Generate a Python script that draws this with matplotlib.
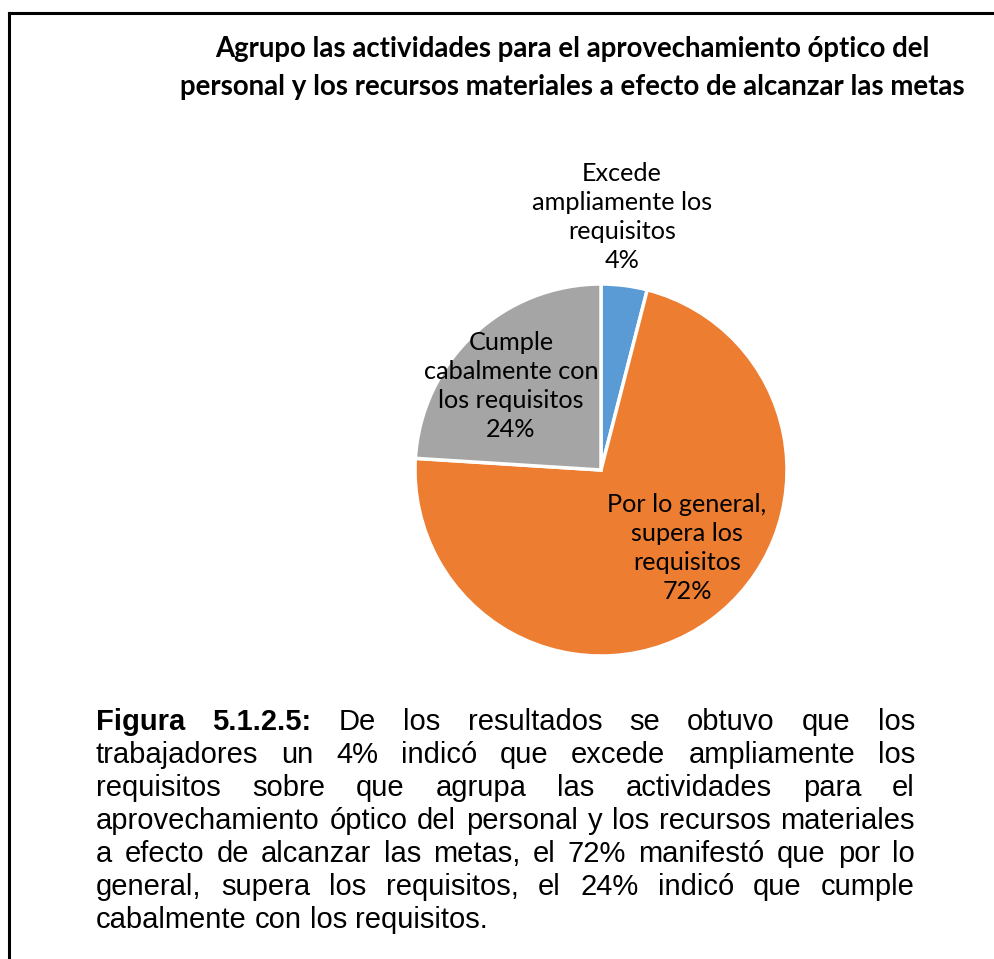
import matplotlib
matplotlib.use("Agg")
import matplotlib.pyplot as plt
from matplotlib.lines import Line2D

W, H, DPI = 994, 959, 100

# ------------------------------------------------------------------------------
# data
# ------------------------------------------------------------------------------
title = ("Agrupo las actividades para el aprovechamiento óptico del\n"
         "personal y los recursos materiales a efecto de alcanzar las metas")
categories = ["Excede\nampliamente los\nrequisitos",
              "Por lo general,\nsupera los\nrequisitos",
              "Cumple\ncabalmente con\nlos requisitos"]
values = [4, 72, 24]
colors = ["#5B9BD5", "#ED7D31", "#A5A5A5"]
# label anchor (pixel x, pixel y of the block centre)
label_pos = [(622, 217), (687, 548), (511, 386)]

caption_lines = [
    "Figura 5.1.2.5: De los resultados se obtuvo que los",
    "trabajadores un 4% indicó que excede ampliamente los",
    "requisitos sobre que agrupa las actividades para el",
    "aprovechamiento óptico del personal y los recursos materiales",
    "a efecto de alcanzar las metas, el 72% manifestó que por lo",
    "general, supera los requisitos, el 24% indicó que cumple",
    "cabalmente con los requisitos.",
]
bold_words = 2  # "Figura 5.1.2.5:"


def px(x, y):
    """pixel (from top-left) -> figure fraction"""
    return x / W, 1 - y / H


fig = plt.figure(figsize=(W / DPI, H / DPI), dpi=DPI)
fig.patch.set_facecolor("white")
renderer = fig.canvas.get_renderer()

# frame (only left and top edges are visible in the crop)
fig.add_artist(Line2D([9 / W, 9 / W], [0, 1 - 13 / H], transform=fig.transFigure,
                      color="black", lw=2.2, solid_capstyle="projecting"))
fig.add_artist(Line2D([9 / W, 1], [1 - 13 / H, 1 - 13 / H], transform=fig.transFigure,
                      color="black", lw=2.2, solid_capstyle="projecting"))

# title
fig.text(*px(572, 68), title, ha="center", va="center", fontsize=19.9,
         fontweight="bold", family="Lato", linespacing=1.58)

# pie
cx, cy, r = 601, 470, 186
ax = fig.add_axes([(cx - r) / W, 1 - (cy + r) / H, 2 * r / W, 2 * r / H])
ax.pie(values, colors=colors, startangle=90, counterclock=False,
       wedgeprops=dict(edgecolor="white", linewidth=2.5))
ax.set_xlim(-1, 1)
ax.set_ylim(-1, 1)
ax.set_aspect("auto")
ax.axis("off")

for cat, v, (lx, ly) in zip(categories, values, label_pos):
    fig.text(*px(lx, ly), f"{cat}\n{v}%", ha="center", va="center",
             fontsize=18.2, family="Lato", linespacing=1.33, color="#000000")

# justified caption
left, right = 96, 915
y0, dy = 722, 33


def width_of(s, fs, weight="normal"):
    t = fig.text(0, 0, s, fontsize=fs, family="Liberation Sans", fontweight=weight)
    w = t.get_window_extent(renderer).width
    t.remove()
    return w


# pick the size at which the fullest line nearly fills the column
fs = 19.3
fs *= 0.983 * (right - left) / width_of(caption_lines[3], fs)
space = width_of("a a", fs) - width_of("aa", fs)

for i, line in enumerate(caption_lines):
    words = line.split()
    y = y0 + i * dy
    texts = []
    for j, w in enumerate(words):
        bold = (i == 0 and j < bold_words)
        t = fig.text(0, 0, w, fontsize=fs, family="Liberation Sans",
                     fontweight="bold" if bold else "normal",
                     ha="left", va="center")
        texts.append(t)
    widths = [t.get_window_extent(renderer).width for t in texts]
    if i == len(caption_lines) - 1:
        gap = space
    else:
        gap = (right - left - sum(widths)) / (len(words) - 1)
    x = left
    for t, wd in zip(texts, widths):
        t.set_position(px(x, y))
        x += wd + gap

fig.savefig("out.png", dpi=DPI)
